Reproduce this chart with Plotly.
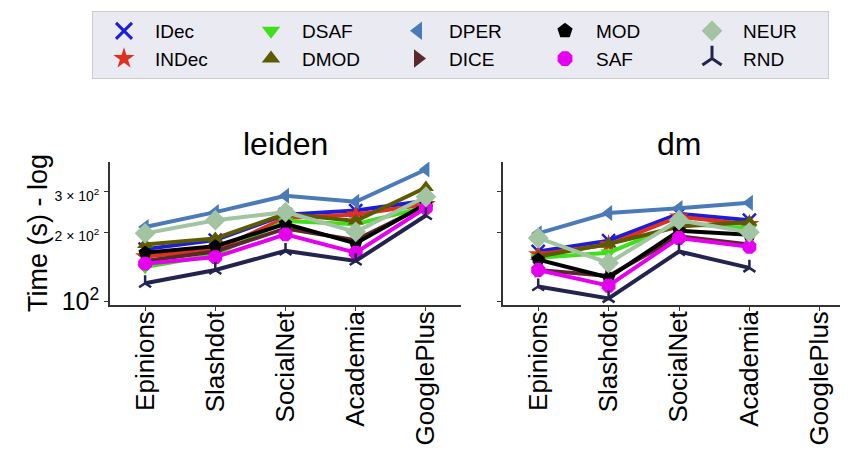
import plotly.graph_objects as go

categories = ["Epinions", "Slashdot", "SocialNet", "Academia", "GooglePlus"]
methods = ["IDec", "INDec", "DSAF", "DMOD", "DPER", "DICE", "MOD", "SAF", "NEUR", "RND"]

leiden_IDec = [169, 185, 239, 249, 275]
leiden_INDec = [157, 168, 231, 239, 265]
leiden_DSAF = [141, 160, 224, 217, 258]
leiden_DMOD = [177, 188, 241, 224, 314]
leiden_DPER = [211, 245, 289, 272, 376]
leiden_DICE = [150, 165, 208, 185, 262]
leiden_MOD = [163, 174, 218, 179, 266]
leiden_SAF = [146, 156, 196, 163, 256]
leiden_NEUR = [198, 226, 245, 201, 286]
leiden_RND = [120, 137, 166, 150, 237]

dm_IDec = [165, 184, 241, 226, None]
dm_INDec = [160, 177, 234, 217, None]
dm_DSAF = [155, 163, 218, 209, None]
dm_DMOD = [157, 178, 212, 222, None]
dm_DPER = [198, 243, 255, 269, None]
dm_DICE = [137, 129, 192, 177, None]
dm_MOD = [152, 127, 203, 195, None]
dm_SAF = [137, 117, 189, 173, None]
dm_NEUR = [189, 147, 226, 200, None]
dm_RND = [116, 103, 165, 140, None]

leiden = {"IDec": leiden_IDec, "INDec": leiden_INDec, "DSAF": leiden_DSAF, "DMOD": leiden_DMOD,
          "DPER": leiden_DPER, "DICE": leiden_DICE, "MOD": leiden_MOD, "SAF": leiden_SAF,
          "NEUR": leiden_NEUR, "RND": leiden_RND}
dm = {"IDec": dm_IDec, "INDec": dm_INDec, "DSAF": dm_DSAF, "DMOD": dm_DMOD,
      "DPER": dm_DPER, "DICE": dm_DICE, "MOD": dm_MOD, "SAF": dm_SAF,
      "NEUR": dm_NEUR, "RND": dm_RND}

style = {
    "IDec": ("#1c1cdc", "x-thin", 13),
    "INDec": ("#e0301e", "star", 15),
    "DSAF": ("#3ee01a", "triangle-down", 14),
    "DMOD": ("#5e5a00", "triangle-up", 14),
    "DPER": ("#4a7ab8", "triangle-left", 14),
    "DICE": ("#5a2a2a", "triangle-right", 14),
    "MOD": ("#000000", "pentagon", 14),
    "SAF": ("#e600f0", "octagon", 15),
    "NEUR": ("#a2c4a2", "diamond", 16),
    "RND": ("#23234f", "y-up", 10),
}
legend_rank = {"IDec": 1, "DSAF": 2, "DPER": 3, "MOD": 4, "NEUR": 5,
               "INDec": 6, "DMOD": 7, "DICE": 8, "SAF": 9, "RND": 10}

FONT = "Liberation Sans, Arial, sans-serif"

fig = go.Figure()
for data, xa, ya in [(leiden, "x", "y"), (dm, "x2", "y2")]:
    for m in methods:
        c, sym, sz = style[m]
        open_sym = sym in ("x-thin", "y-up")
        fig.add_trace(go.Scatter(
            x=categories, y=data[m], mode="lines+markers", name=m,
            xaxis=xa, yaxis=ya, showlegend=False,
            line=dict(color=c, width=4),
            marker=dict(symbol=sym, size=sz, color=c,
                        line=dict(color=c, width=2.5 if open_sym else 0)),
        ))

for m in methods:
    c, sym, sz = style[m]
    open_sym = sym in ("x-thin", "y-up")
    fig.add_trace(go.Scatter(
        x=[None], y=[None], mode="markers", name=m, xaxis="x", yaxis="y",
        showlegend=True, legendrank=legend_rank[m],
        marker=dict(symbol=sym, size=20, color=c,
                    line=dict(color=c, width=3 if open_sym else 0)),
    ))

W, H = 848, 452
L, R, T, B = 102, 847, 154, 297
pw, ph = R - L, B - T


def px(x):
    return (x - L) / pw


def py(y):
    return (B - y) / ph


tickvals = [100, 200, 300]
ticktext = ["10<sup>2</sup>",
            "<span style='font-size:14px'>2 × 10<sup>2</sup></span>",
            "<span style='font-size:14px'>3 × 10<sup>2</sup></span>"]

axis_common = dict(showline=True, linecolor="#333333", linewidth=1.5, showgrid=False,
                   zeroline=False, ticks="outside", ticklen=4, tickcolor="#333333",
                   automargin=False)
xcommon = dict(axis_common, type="category", categoryorder="array", categoryarray=categories,
               range=[-0.5, 4.5], tickangle=-90, ticklabelstandoff=-10,
               tickfont=dict(family=FONT, size=26, color="#000000"))

fig.update_layout(
    width=W, height=H,
    margin=dict(l=L, r=W - R, t=T, b=H - B, autoexpand=False),
    paper_bgcolor="white", plot_bgcolor="white",
    font=dict(family=FONT, color="#000000"),
    xaxis=dict(xcommon, domain=[0, px(453)], anchor="y"),
    xaxis2=dict(xcommon, domain=[px(495), 1], anchor="y2"),
    yaxis=dict(axis_common, type="log", range=[1.984, 2.608], domain=[0, 1], anchor="x",
               tickvals=tickvals, ticktext=ticktext,
               tickfont=dict(family=FONT, size=25, color="#000000")),
    yaxis2=dict(axis_common, type="log", range=[1.984, 2.608], domain=[0, 1], anchor="x2",
                tickvals=tickvals, showticklabels=False),
    legend=dict(orientation="h", xref="container", yref="container",
                x=84 / W, y=1 - 3 / H, xanchor="left", yanchor="top",
                bgcolor="#eaeaf2", bordercolor="#cccccc", borderwidth=1,
                font=dict(family=FONT, size=19, color="#000000"),
                entrywidth=80, entrywidthmode="pixels", itemwidth=52,
                tracegroupgap=0),
    annotations=[
        dict(text="leiden", x=px(277.5), y=py(136), xref="paper", yref="paper",
             showarrow=False, font=dict(size=32), xanchor="center", yanchor="middle"),
        dict(text="dm", x=px(671), y=py(136), xref="paper", yref="paper",
             showarrow=False, font=dict(size=32), xanchor="center", yanchor="middle"),
        dict(text="Time (s) - log", x=px(30), y=py(225), xref="paper", yref="paper",
             showarrow=False, font=dict(size=27), textangle=-90,
             xanchor="center", yanchor="middle"),
    ],
)

fig.write_html("out.html")
